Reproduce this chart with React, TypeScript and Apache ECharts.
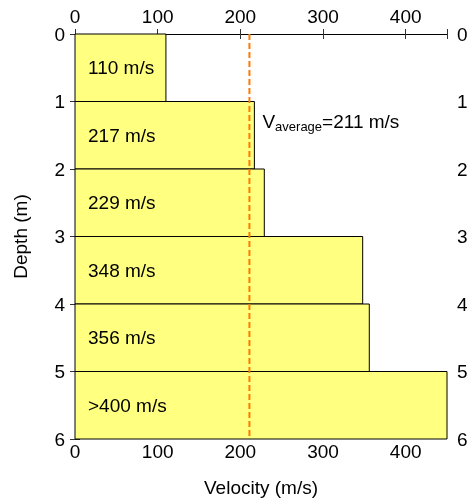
import React, { useEffect, useRef } from "react";
import * as echarts from "echarts";

const depthTop = [0, 1, 2, 3, 4, 5];
const depthBottom = [1, 2, 3, 4, 5, 6];
const velocities = [110, 217, 229, 348, 356, 450];
const layerLabels = ["110 m/s", "217 m/s", "229 m/s", "348 m/s", "356 m/s", ">400 m/s"];
const averageVelocity = 211;
const averageLabelDepth = 1.3;
const xTicks = [0, 100, 200, 300, 400];
const yTicks = [0, 1, 2, 3, 4, 5, 6];

const FONT = "'Liberation Sans', Arial, Helvetica, sans-serif";
const FS = 19;

export default function App() {
  const ref = useRef<HTMLDivElement>(null);
  useEffect(() => {
    if (!ref.current) return;
    const chart = echarts.init(ref.current, undefined, { renderer: "svg" });
    const data = velocities.map((v, i) => [v, depthTop[i], depthBottom[i], i]);
    const axisCommon = {
      type: "value" as const,
      axisLine: { show: true, lineStyle: { color: "#000", width: 1 } },
      axisTick: { show: true, inside: true, length: 5, lineStyle: { color: "#333" } },
      splitLine: { show: false },
    };
    const lbl = (margin: number, ticks: number[]) => ({
      margin,
      fontSize: FS,
      color: "#000",
      fontFamily: FONT,
      formatter: (v: number) => (ticks.includes(v) ? String(v) : ""),
    });
    chart.setOption({
      animation: false,
      textStyle: { fontFamily: FONT },
      grid: { left: 75, right: 27, top: 34, bottom: 60 },
      xAxis: [
        {
          ...axisCommon,
          position: "bottom",
          min: 0,
          max: 450,
          interval: 100,
          name: "Velocity (m/s)",
          nameLocation: "middle",
          nameGap: 39,
          nameTextStyle: { fontSize: FS, color: "#000", fontFamily: FONT },
          axisLabel: lbl(3, xTicks),
        },
        {
          ...axisCommon,
          position: "top",
          min: 0,
          max: 450,
          interval: 100,
          axisLabel: lbl(8, xTicks),
        },
      ],
      yAxis: [
        {
          ...axisCommon,
          position: "left",
          inverse: true,
          min: 0,
          max: 6,
          interval: 1,
          name: "Depth (m)",
          nameLocation: "middle",
          nameGap: 45,
          nameTextStyle: { fontSize: FS, color: "#000", fontFamily: FONT },
          axisLabel: lbl(10, yTicks),
        },
        {
          ...axisCommon,
          position: "right",
          inverse: true,
          min: 0,
          max: 6,
          interval: 1,
          axisLabel: lbl(10, yTicks),
        },
      ],
      series: [
        {
          type: "custom",
          xAxisIndex: 0,
          yAxisIndex: 0,
          clip: false,
          encode: { x: 0, y: [1, 2] },
          data,
          renderItem: (params: any, api: any) => {
            const v = api.value(0);
            const t = api.value(1);
            const b = api.value(2);
            const idx = api.value(3);
            const p0 = api.coord([0, t]);
            const p1 = api.coord([v, b]);
            return {
              type: "group",
              children: [
                {
                  type: "rect",
                  shape: { x: p0[0], y: p0[1], width: p1[0] - p0[0], height: p1[1] - p0[1] },
                  style: { fill: "#FFFF80", stroke: "#000", lineWidth: 1 },
                },
                {
                  type: "text",
                  x: p0[0] + 13,
                  y: (p0[1] + p1[1]) / 2,
                  style: {
                    text: layerLabels[idx],
                    fill: "#000",
                    fontSize: FS,
                    fontFamily: FONT,
                    verticalAlign: "middle",
                    align: "left",
                  },
                },
              ],
            };
          },
        },
        {
          type: "line",
          xAxisIndex: 0,
          yAxisIndex: 0,
          data: [
            [averageVelocity, 0],
            [averageVelocity, 6],
          ],
          symbol: "none",
          lineStyle: { color: "#FF7A00", width: 2, type: [6, 3] },
          z: 5,
        },
        {
          type: "scatter",
          xAxisIndex: 0,
          yAxisIndex: 0,
          data: [[averageVelocity, averageLabelDepth]],
          symbolSize: 2,
          itemStyle: { color: "rgba(0,0,0,0)" },
          label: {
            show: true,
            position: "right",
            distance: 12,
            color: "#000",
            opacity: 1,
            formatter: `{v|V}{s|average}{v|=${averageVelocity} m/s}`,
            rich: {
              v: { fontSize: FS, color: "#000", opacity: 1, fontFamily: FONT, lineHeight: 22, verticalAlign: "middle" },
              s: { fontSize: 13, color: "#000", opacity: 1, fontFamily: FONT, lineHeight: 22, verticalAlign: "bottom", padding: [9, 0, 0, 0] },
            },
          },
          emphasis: { disabled: true },
          z: 6,
        },
      ],
    });
    return () => chart.dispose();
  }, []);
  return <div ref={ref} style={{ position: "fixed", left: 0, top: 0, width: 474, height: 502 }} />;
}
